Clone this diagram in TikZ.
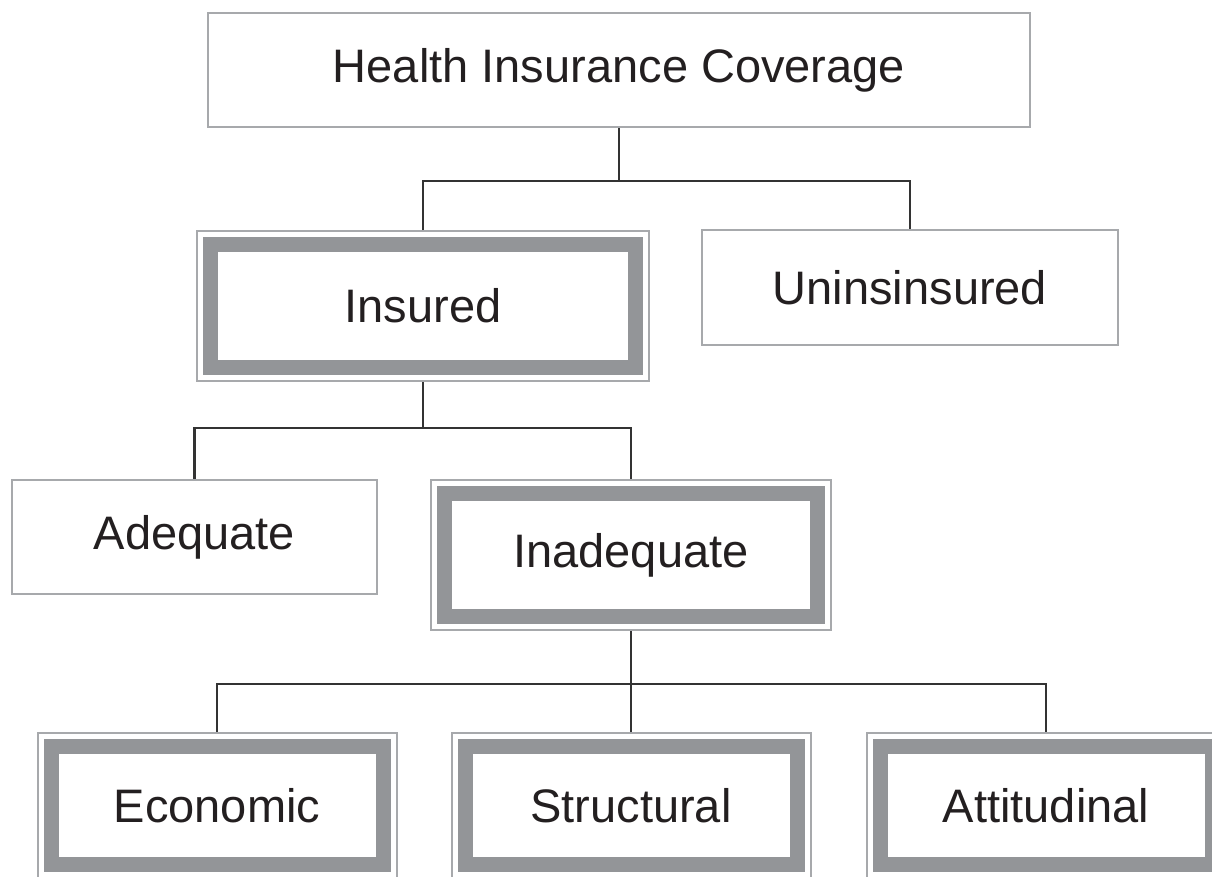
\documentclass[tikz,border=0pt]{standalone}
\usepackage{fontspec}
\setmainfont{Liberation Sans}
\definecolor{thingray}{HTML}{A7A9AC}
\definecolor{bandgray}{HTML}{939598}
\definecolor{conngray}{HTML}{333333}
\definecolor{txt}{HTML}{231F20}
\begin{document}
\begin{tikzpicture}[x=1pt,y=-1pt,
 box/.style={draw=thingray, line width=2pt, rectangle, inner sep=0pt,
   font=\fontsize{47}{50}\selectfont, text=txt},
 boldbox/.style={box, path picture={\draw[bandgray, line width=15pt]
   ([shift={(13.5pt,-13.5pt)}]path picture bounding box.north west) rectangle
   ([shift={(-13.5pt,13.5pt)}]path picture bounding box.south east);}},
 conn/.style={draw=conngray, line width=2.5pt}]
\useasboundingbox (0,0) rectangle (1212,876);
\node[box, minimum width=822pt, minimum height=114pt] (hic) at (619,70) {Health Insurance Coverage};
\node[boldbox, minimum width=452pt, minimum height=150pt] (ins) at (423,306) {Insured};
\node[box, minimum width=416pt, minimum height=115pt] (unins) at (910,287.5) {Uninsinsured};
\node[box, minimum width=365pt, minimum height=114pt] (adq) at (194.5,537) {Adequate};
\node[boldbox, minimum width=400pt, minimum height=150pt] (inadq) at (631,555) {Inadequate};
\node[boldbox, minimum width=359pt, minimum height=145pt] (eco) at (217,805.5) {Economic};
\node[boldbox, minimum width=359pt, minimum height=145pt] (str) at (631,805.5) {Structural};
\node[boldbox, minimum width=359pt, minimum height=145pt] (att) at (1046,805.5) {Attitudinal};
\draw[conn] (hic.south) -- ++(0,53) coordinate (j1);
\draw[conn] (ins.north) |- (j1) -| (unins.north);
\draw[conn] (ins.south) -- ++(0,46) coordinate (j2);
\draw[conn] (adq.north) |- (j2) -| (inadq.north);
\draw[conn] (inadq.south) -- ++(0,53) coordinate (j3);
\draw[conn] (j3) -- (str.north);
\draw[conn] (eco.north) |- (j3) -| (att.north);
\end{tikzpicture}
\end{document}
